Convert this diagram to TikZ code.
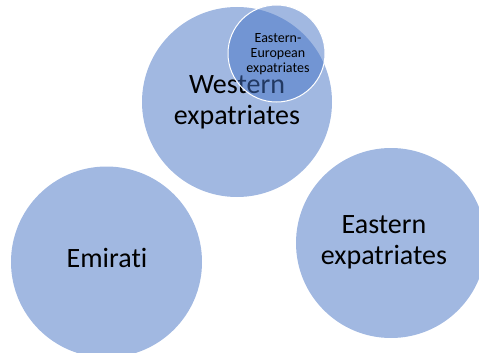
\documentclass[tikz,border=0pt]{standalone}
\usepackage{fontspec}
\setmainfont[Ligatures={NoCommon}]{Carlito}
\definecolor{circblue}{HTML}{4472C4}
\begin{document}
\begin{tikzpicture}[x=1pt,y=-1pt,
  bubble/.style={circle,fill=circblue,fill opacity=0.5,inner sep=0pt},
  bigtext/.style={align=center,font=\fontsize{28}{31}\selectfont,text=black},
  smalltext/.style={align=center,font=\fontsize{14}{15.2}\selectfont,text=black}]
\useasboundingbox (0,0) rectangle (479,353);
\clip (0,0) rectangle (479,353);
\node[bubble,minimum size=190pt] (west) at (237,102) {};
\node[bubble,minimum size=191pt] (emi) at (106.5,262) {};
\node[bubble,minimum size=190pt] (east) at (391,243) {};
\node[bigtext] (westt) at (237,102) {Western\\expatriates};
\node[bigtext] (emit) at (107,258) {Emirati};
\node[bigtext] (eastt) at (384,242) {Eastern\\expatriates};
\node[bubble,minimum size=97pt,draw=white,draw opacity=1,line width=1pt] (eeu) at (276.5,53.5) {};
\node[smalltext] (eeut) at (278,54) {Eastern-\\European\\expatriates};
\end{tikzpicture}
\end{document}
